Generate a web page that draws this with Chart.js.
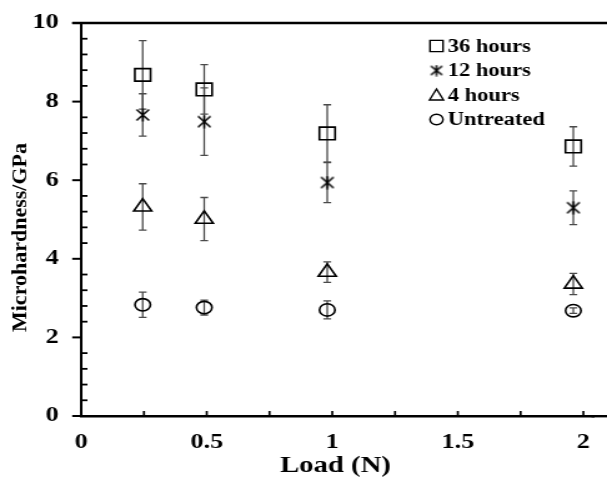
<!DOCTYPE html>
<html><head><meta charset="utf-8">
<script src="https://cdn.jsdelivr.net/npm/chart.js@4"></script>
<style>
html,body{margin:0;padding:0;background:#fff;overflow:hidden}
#wrap{position:absolute;left:0;top:0;width:486px;height:479px;transform:scaleX(1.249);transform-origin:0 0}
#c{display:block;width:486px;height:479px}
</style></head><body>
<div id="wrap"><canvas id="c" width="486" height="479"></canvas></div>
<script>
// ---- data ----
const loads = [0.245, 0.49, 0.98, 1.96];
const seriesNames = ['36 hours', '12 hours', '4 hours', 'Untreated'];
const h36 = [8.68, 8.31, 7.19, 6.86];
const err36 = [0.87, 0.63, 0.73, 0.50];
const h12 = [7.66, 7.49, 5.94, 5.30];
const err12 = [0.54, 0.86, 0.51, 0.43];
const h4 = [5.32, 5.01, 3.66, 3.36];
const err4 = [0.59, 0.55, 0.26, 0.27];
const hU = [2.83, 2.76, 2.70, 2.68];
const errU = [0.32, 0.19, 0.23, 0.07];
const xTicks = [0, 0.5, 1, 1.5, 2];
const xTickLabels = ['0', '0.5', '1', '1.5', '2'];
const yTicks = [0, 2, 4, 6, 8, 10];
const xMinorStep = 0.25;
const yMinorStep = 0.4;
const xTitle = 'Load (N)';
const yTitle = 'Microhardness/GPa';

const FONT = '"Liberation Serif","Times New Roman",serif';
const STRETCH = 1.249;

// asterisk marker
function makeAsterisk(w, h) {
  const c = document.createElement('canvas');
  c.width = w; c.height = h;
  const g = c.getContext('2d');
  g.strokeStyle = '#000'; g.lineWidth = 1.5;
  g.beginPath();
  g.moveTo(1.5, 1.5); g.lineTo(w - 1.5, h - 1.5);
  g.moveTo(w - 1.5, 1.5); g.lineTo(1.5, h - 1.5);
  g.moveTo(w / 2, 0.5); g.lineTo(w / 2, h - 0.5);
  g.stroke();
  return c;
}
const asterisk = makeAsterisk(13, 14);
const asteriskLegend = makeAsterisk(12, 12);

function pts(vals) { return loads.map((x, i) => ({ x: x, y: vals[i] })); }

const datasets = [
  { label: seriesNames[0], data: pts(h36), errors: err36, pointStyle: 'rect', pointRadius: 8.9 },
  { label: seriesNames[1], data: pts(h12), errors: err12, pointStyle: asterisk, pointRadius: 7 },
  { label: seriesNames[2], data: pts(h4), errors: err4, pointStyle: 'triangle', pointRadius: 8.3 },
  { label: seriesNames[3], data: pts(hU), errors: errU, pointStyle: 'circle', pointRadius: 6.2 }
].map(d => Object.assign(d, {
  showLine: false,
  pointBorderColor: '#000',
  pointBackgroundColor: 'rgba(0,0,0,0)',
  pointBorderWidth: 1.6,
  pointHoverRadius: d.pointRadius
}));

const errorBars = {
  id: 'errorBars',
  beforeDatasetsDraw(chart) {
    const { ctx, scales: { x, y } } = chart;
    ctx.save();
    ctx.strokeStyle = '#4a4a4a';
    ctx.lineWidth = 1.3;
    chart.data.datasets.forEach(ds => {
      ds.data.forEach((p, i) => {
        const e = ds.errors[i];
        const px = x.getPixelForValue(p.x);
        const t = y.getPixelForValue(p.y + e), b = y.getPixelForValue(p.y - e);
        ctx.beginPath();
        ctx.moveTo(px, t); ctx.lineTo(px, b);
        ctx.moveTo(px - 3.1, t); ctx.lineTo(px + 3.1, t);
        ctx.moveTo(px - 3.1, b); ctx.lineTo(px + 3.1, b);
        ctx.stroke();
      });
    });
    ctx.restore();
  }
};

const frame = {
  id: 'frame',
  afterDraw(chart) {
    const { ctx, chartArea: a, scales: { x, y } } = chart;
    ctx.save();
    ctx.strokeStyle = '#000';
    ctx.lineWidth = 2.4;
    ctx.beginPath(); ctx.moveTo(a.left - 7.2, a.top); ctx.lineTo(chart.width, a.top); ctx.stroke();
    const by = x._borderValue !== undefined ? x._borderValue : a.bottom + 1.2;
    ctx.beginPath(); ctx.moveTo(a.right - 2, by); ctx.lineTo(chart.width, by); ctx.stroke();
    ctx.lineWidth = 2;
    yTicks.forEach(v => {
      const py = y.getPixelForValue(v);
      ctx.beginPath(); ctx.moveTo(a.left - 7.2, py); ctx.lineTo(a.left, py); ctx.stroke();
    });
    ctx.lineWidth = 1.8;
    for (let k = 1; k * yMinorStep < 10 - 1e-6; k++) {
      const v = k * yMinorStep;
      if (Math.abs(v / 2 - Math.round(v / 2)) < 1e-6) continue;
      const py = y.getPixelForValue(v);
      ctx.beginPath(); ctx.moveTo(a.left, py); ctx.lineTo(a.left + 5, py); ctx.stroke();
    }
    ctx.lineWidth = 1.7;
    for (let k = 1; k * xMinorStep <= 2 + 1e-6; k++) {
      const px = x.getPixelForValue(k * xMinorStep);
      ctx.beginPath(); ctx.moveTo(px, a.bottom); ctx.lineTo(px, a.bottom - 5); ctx.stroke();
    }
    ctx.restore();
  }
};

const texts = {
  id: 'texts',
  afterDraw(chart) {
    const { ctx } = chart;
    ctx.save();
    ctx.fillStyle = '#000';
    ctx.font = 'bold 23px ' + FONT;
    ctx.textAlign = 'center'; ctx.textBaseline = 'middle';
    ctx.fillText(xTitle, 268.6, 466);
    ctx.translate(16, 237.5);
    ctx.scale(1 / STRETCH, 1);
    ctx.rotate(-Math.PI / 2);
    ctx.font = 'bold 22px ' + FONT;
    ctx.fillText(yTitle, 0, 0);
    ctx.restore();

    ctx.save();
    ctx.font = 'bold 18px ' + FONT;
    ctx.textAlign = 'left'; ctx.textBaseline = 'middle';
    ctx.fillStyle = '#000'; ctx.strokeStyle = '#000'; ctx.lineWidth = 1.4;
    const rows = [46, 70.5, 95, 119.5];
    const mx = 349.5, tx = 358.5;
    chart.data.datasets.forEach((ds, i) => {
      const cy = rows[i];
      ctx.beginPath();
      if (i === 0) { ctx.rect(mx - 5.2, cy - 5.6, 10.4, 11.2); ctx.stroke(); }
      else if (i === 1) { ctx.drawImage(asteriskLegend, mx - 6, cy - 6, 12, 12); }
      else if (i === 2) { ctx.moveTo(mx, cy - 6); ctx.lineTo(mx + 5.6, cy + 5); ctx.lineTo(mx - 5.6, cy + 5); ctx.closePath(); ctx.stroke(); }
      else { ctx.arc(mx, cy, 5.2, 0, Math.PI * 2); ctx.stroke(); }
      ctx.fillText(ds.label, tx, cy + 1);
    });
    ctx.restore();
  }
};

new Chart(document.getElementById('c'), {
  type: 'scatter',
  data: { datasets: datasets },
  options: {
    responsive: false,
    animation: false,
    events: [],
    layout: { padding: { top: 23, right: 0, left: 0, bottom: 0 } },
    plugins: { legend: { display: false }, tooltip: { enabled: false } },
    scales: {
      x: {
        type: 'linear', min: 0, max: 2.042,
        afterFit(s) { s.height = 63; s.paddingLeft = 0; s.paddingRight = 0; },
        afterBuildTicks(s) { s.ticks = xTicks.map(v => ({ value: v })); },
        grid: { display: false, drawTicks: false },
        border: { display: true, color: '#000', width: 2.4 },
        ticks: {
          color: '#000', padding: 14, maxRotation: 0, autoSkip: false,
          font: { family: FONT, size: 21, weight: 'bold' },
          callback: (v) => { const i = xTicks.indexOf(v); return i >= 0 ? xTickLabels[i] : String(v); }
        }
      },
      y: {
        type: 'linear', min: 0, max: 10,
        afterFit(s) { s.width = 65; s.paddingTop = 0; s.paddingBottom = 0; },
        afterBuildTicks(s) { s.ticks = yTicks.map(v => ({ value: v })); },
        grid: { display: false, drawTicks: false },
        border: { display: true, color: '#000', width: 2 },
        ticks: { color: '#000', padding: 18, autoSkip: false, font: { family: FONT, size: 21, weight: 'bold' } }
      }
    }
  },
  plugins: [errorBars, frame, texts]
});
</script>
</body></html>
